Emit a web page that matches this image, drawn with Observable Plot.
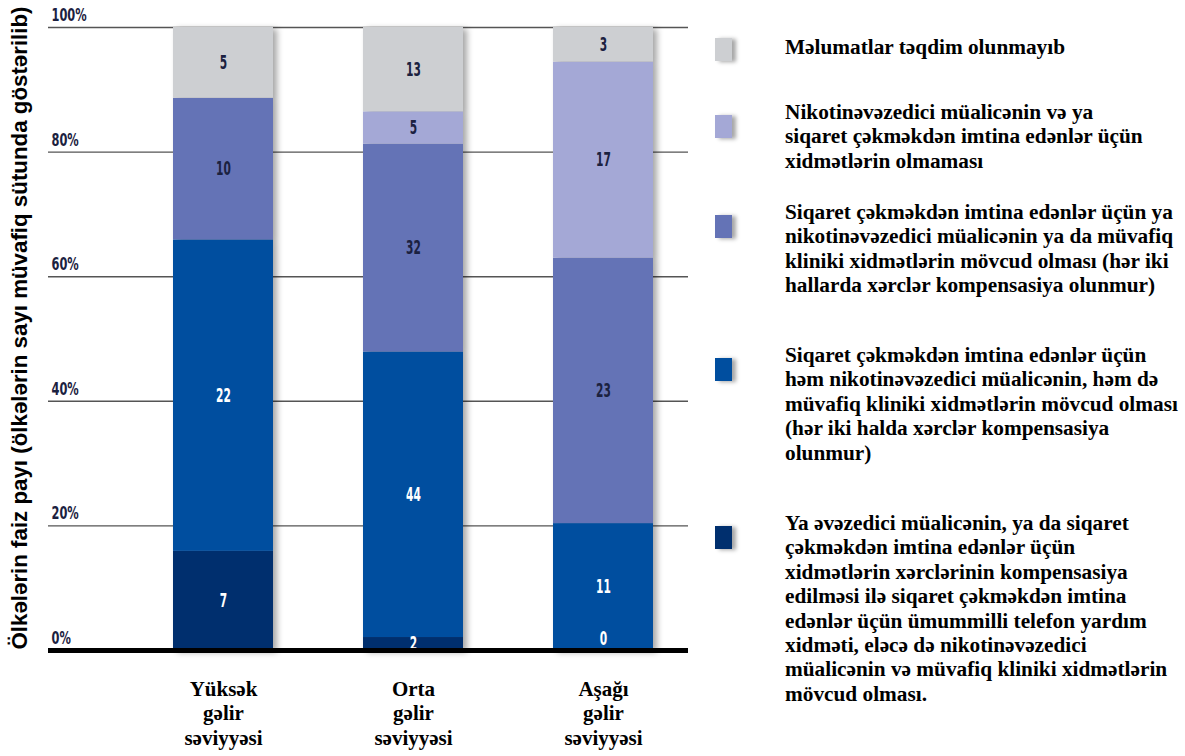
<!DOCTYPE html>
<html>
<head>
<meta charset="utf-8">
<script src="https://cdn.jsdelivr.net/npm/d3@7"></script>
<script src="https://cdn.jsdelivr.net/npm/@observablehq/plot@0.6"></script>
<style>
  html, body { margin: 0; padding: 0; background: #fff; }
  #wrap { position: relative; width: 1185px; height: 756px; overflow: hidden; }
  #chart { position: absolute; left: 0; top: 0; }
  .legend-item { position: absolute; left: 715px; width: 470px; }
  .sw { position: absolute; left: 0; width: 17px; height: 23px; box-shadow: 4px 1px 4px rgba(0,0,0,0.35); }
  .lt { position: absolute; left: 70px; font-family: "Liberation Serif", "Times New Roman", serif; font-weight: bold;
        font-size: 21.3px; line-height: 24.4px; color: #000; white-space: nowrap; }
</style>
</head>
<body>
<div id="wrap">
  <div id="chart"></div>
  <div id="legend"></div>
</div>
<script>
// ---- data ----
const categories = ["Yüksək\ngəlir\nsəviyyəsi", "Orta\ngəlir\nsəviyyəsi", "Aşağı\ngəlir\nsəviyyəsi"];
// series in stacking order, bottom to top
const seriesNames = [
  "Ya əvəzedici müalicənin, ya da siqaret\nçəkməkdən imtina edənlər üçün\nxidmətlərin xərclərinin kompensasiya\nedilməsi ilə siqaret çəkməkdən imtina\nedənlər üçün ümummilli telefon yardım\nxidməti, eləcə də nikotinəvəzedici\nmüalicənin və müvafiq kliniki xidmətlərin\nmövcud olması.",
  "Siqaret çəkməkdən imtina edənlər üçün\nhəm nikotinəvəzedici müalicənin, həm də\nmüvafiq kliniki xidmətlərin mövcud olması\n(hər iki halda xərclər kompensasiya\nolunmur)",
  "Siqaret çəkməkdən imtina edənlər üçün ya\nnikotinəvəzedici müalicənin ya da müvafiq\nkliniki xidmətlərin mövcud olması (hər iki\nhallarda xərclər kompensasiya olunmur)",
  "Nikotinəvəzedici müalicənin və ya\nsiqaret çəkməkdən imtina edənlər üçün\nxidmətlərin olmaması",
  "Məlumatlar təqdim olunmayıb"
];
const valuesNational   = [7, 2, 0];
const valuesBoth       = [22, 44, 11];
const valuesEither     = [10, 32, 23];
const valuesNone       = [0, 5, 17];
const valuesNoData     = [5, 13, 3];
const yTicks = [0, 0.2, 0.4, 0.6, 0.8, 1];
const yTickLabels = ["0%", "20%", "40%", "60%", "80%", "100%"];
const yTitle = "Ölkələrin faiz payı (ölkələrin sayı müvafiq sütunda göstərilib)";

// ---- styles ----
const colors = ["#002f6e", "#004e9f", "#6473b6", "#a4a8d6", "#cdcfd2"];
const condensed = "'DejaVu Sans', sans-serif";

const allSeries = [valuesNational, valuesBoth, valuesEither, valuesNone, valuesNoData];
const data = [];
allSeries.forEach((vals, si) => vals.forEach((v, ci) => data.push({cat: categories[ci], series: seriesNames[si], si, value: v})));

const stackOpts = (extra) => Plot.stackY({offset: "normalize", x: "cat", y: "value", z: "series", ...extra});
const labelFont = {fontFamily: condensed, fontWeight: "bold", fontSize: 19};

const chart = Plot.plot({
  width: 690,
  height: 756,
  marginLeft: 48,
  marginRight: 2,
  marginTop: 27,
  marginBottom: 106,
  style: {background: "transparent", overflow: "visible"},
  x: {domain: categories, range: [172, 653], paddingInner: 0.475, paddingOuter: 0, axis: null},
  y: {domain: [0, 1], axis: null},
  color: {domain: seriesNames, range: colors},
  marks: [
    Plot.ruleY(yTicks.slice(1), {stroke: "#555", strokeWidth: 1.4}),
    Plot.barY(data, stackOpts({fill: "series", inset: 0})),
    Plot.text(data, stackOpts({text: d => (d.si <= 1 && d.value > 0) ? String(d.value) : "", fill: "white", ...labelFont})),
    Plot.text(data, stackOpts({text: d => (d.si >= 2 && d.value > 0) ? String(d.value) : "", fill: "#1b2140", ...labelFont})),
    Plot.text(data, stackOpts({text: d => (d.si === 0 && d.value === 0) ? String(d.value) : "", fill: "white", dy: -12, ...labelFont})),
    Plot.text(yTicks, {y: d => d, text: (d, i) => yTickLabels[i], frameAnchor: "left", textAnchor: "start",
      dx: 3, dy: -12, fill: "#1b2140", fontFamily: condensed, fontWeight: "bold", fontSize: 17}),
    Plot.ruleY([0], {stroke: "#000", strokeWidth: 5}),
    Plot.axisX({domain: categories, tickSize: 0, tickPadding: 28, fontFamily: "'Liberation Serif', 'Times New Roman', serif",
      fontWeight: "bold", fontSize: 21, lineHeight: 1.16, fill: "#000", label: null}),
    Plot.text([yTitle], {frameAnchor: "left", textAnchor: "middle", rotate: -90, dx: -29, dy: -11,
      fontFamily: "'Liberation Sans', Arial, sans-serif", fontWeight: "bold", fontSize: 22.3, fill: "#000"})
  ]
});
chart.querySelectorAll('g[aria-label="bar"]').forEach(g => g.style.filter = "drop-shadow(4px 2px 3px rgba(0,0,0,0.35))");
// condense the sans labels (narrow typeface look)
chart.querySelectorAll('g[aria-label="text"]').forEach(g => {
  if (g.getAttribute("font-family") !== condensed) return;
  const sx = g.getAttribute("font-size") == "17" ? 0.67 : 0.56;
  g.querySelectorAll("text").forEach(t => {
    const tr = t.getAttribute("transform") || "";
    t.setAttribute("transform", tr + ` scale(${sx},1)`);
  });
});
document.getElementById("chart").appendChild(chart);

// ---- legend (top to bottom) ----
const legendTops = [35, 100, 200, 343, 511];
const legend = document.getElementById("legend");
const order = [4, 3, 2, 1, 0];
order.forEach((si, k) => {
  const item = document.createElement("div");
  item.className = "legend-item";
  item.style.top = legendTops[k] + "px";
  const sw = document.createElement("div");
  sw.className = "sw";
  sw.style.background = colors[si];
  sw.style.top = (k === 0 ? 3 : 15) + "px";
  const t = document.createElement("div");
  t.className = "lt";
  t.innerText = seriesNames[si];
  item.appendChild(sw);
  item.appendChild(t);
  legend.appendChild(item);
});
</script>
</body>
</html>
